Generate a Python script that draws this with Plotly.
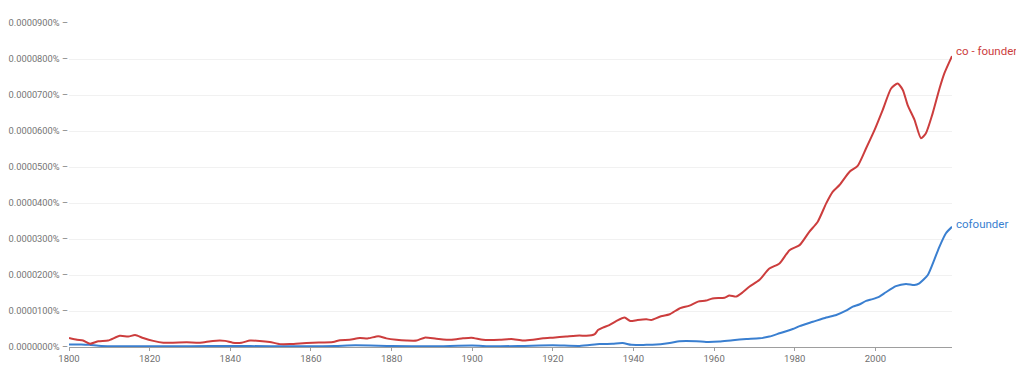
import plotly.graph_objects as go

# values in units of 0.0000001 %
red_years = [1800, 1802, 1803.5, 1805.2, 1807.3, 1809.7, 1812.6, 1814.7, 1816.4, 1818.4, 1820.9, 1823.4,
             1825.8, 1829.2, 1832.5, 1835.7, 1838.7, 1840.6, 1842.8, 1844.9, 1847.3, 1849.8, 1852.3,
             1854.8, 1857.2, 1860.5, 1865.5, 1867.2, 1869.6, 1872.1, 1874.2, 1876.7, 1878.7, 1881.2,
             1883.7, 1886.2, 1888.2, 1891.1, 1894.8, 1897.7, 1899.8, 1902.7, 1906.8, 1909.7, 1912.6,
             1915.1, 1917.6, 1920, 1923.3, 1926.6, 1928.3, 1930.4, 1931.2, 1932.4, 1934, 1935.7,
             1937.8, 1939.2, 1941, 1943.2, 1944.4, 1946.5, 1949, 1951.4, 1953.9, 1956, 1958, 1959.6,
             1962.6, 1963.8, 1965.5, 1967.1, 1968.8, 1971.2, 1973.7, 1976.2, 1978.7, 1981.2, 1983.6,
             1985.7, 1987.8, 1989.4, 1991.1, 1993.6, 1995.6, 1997.7, 1999.8, 2001.8, 2003.9, 2005.5,
             2006.8, 2008, 2009.7, 2011.3, 2012.5, 2014.2, 2015.9, 2017.1, 2019]
red_vals = [25, 20, 18, 9, 16, 18, 31, 29, 33, 25, 17, 12,
            12, 13, 12, 17, 17, 12, 12, 18, 17, 14, 8,
            8, 10, 12, 14, 19, 20, 25, 24, 30, 24, 20,
            18, 18, 26, 23, 20, 24, 26, 20, 20, 22, 18,
            20, 24, 26, 29, 32, 31, 36, 47, 54, 61, 72,
            82, 72, 75, 77, 75, 84, 91, 107, 115, 126, 129, 135,
            137, 143, 140, 152, 168, 186, 218, 232, 269, 283, 320,
            348, 399, 431, 450, 487, 503, 552, 603, 658, 718, 732,
            714, 672, 631, 580, 593, 649, 718, 760, 808]

blue_years = [1800, 1803, 1805, 1808, 1812, 1820, 1830, 1840, 1850, 1860, 1866, 1871, 1880, 1890,
              1900, 1905, 1912, 1920, 1926.6, 1931.6, 1934.8, 1937.3, 1939.5, 1943.2, 1944.7, 1949,
              1951.4, 1955.6, 1958, 1961.3, 1964.6, 1968, 1971.2, 1973.7, 1976.2, 1979.5, 1981.2,
              1984.5, 1987.8, 1990.3, 1992.7, 1994.4, 1996, 1997.7, 1999.3, 2001, 2002.6, 2005.1,
              2007.6, 2009.7, 2010.9, 2013, 2014.6, 2015.9, 2017.5, 2019]
blue_vals = [7, 7, 6, 3, 2, 2, 2, 3, 2, 2, 3, 5, 3, 2,
             4, 2, 3, 5, 3, 8, 9, 11, 6, 6, 6, 11,
             16, 16, 14, 15, 19, 22, 24, 29, 38, 50, 58,
             70, 82, 89, 101, 112, 118, 128, 133, 140, 152, 169,
             175, 172, 177, 200, 242, 279, 316, 334]

y_tick_vals = [0, 100, 200, 300, 400, 500, 600, 700, 800, 900]
y_tick_text = ["0.0000000% –", "0.0000100% –", "0.0000200% –", "0.0000300% –", "0.0000400% –",
               "0.0000500% –", "0.0000600% –", "0.0000700% –", "0.0000800% –", "0.0000900% –"]
x_tick_vals = [1800, 1820, 1840, 1860, 1880, 1900, 1920, 1940, 1960, 1980, 2000]

RED = "#cc3d3d"
BLUE = "#3a7fd0"

fig = go.Figure()
fig.add_trace(go.Scatter(x=blue_years, y=blue_vals, mode="lines",
                         line=dict(color=BLUE, width=2, shape="spline", smoothing=0.6),
                         name="cofounder"))
fig.add_trace(go.Scatter(x=red_years, y=red_vals, mode="lines",
                         line=dict(color=RED, width=2, shape="spline", smoothing=0.6),
                         name="co - founder"))

fig.add_annotation(x=2019, y=red_vals[-1], xref="x", yref="y", text="co - founder",
                   showarrow=False, xanchor="left", yanchor="middle", xshift=2, yshift=5,
                   font=dict(color=RED, size=11.5, family="Roboto"))
fig.add_annotation(x=2019, y=blue_vals[-1], xref="x", yref="y", text="cofounder",
                   showarrow=False, xanchor="left", yanchor="middle", xshift=2, yshift=3,
                   font=dict(color=BLUE, size=11.5, family="Roboto"))

fig.update_layout(
    width=1016, height=365,
    margin=dict(l=61, r=72, t=15, b=26),
    paper_bgcolor="white", plot_bgcolor="white",
    showlegend=False,
    font=dict(family="Roboto", size=9.5, color="#757575"),
    xaxis=dict(range=[1800, 2019], tickvals=x_tick_vals, showgrid=False, zeroline=False,
               showline=True, linecolor="#9e9e9e", linewidth=1, automargin=False,
               ticks="outside", ticklen=3, tickcolor="#9e9e9e",
               tickfont=dict(size=9.5, color="#6f6f6f")),
    yaxis=dict(range=[0, 900], tickvals=y_tick_vals, ticktext=y_tick_text,
               showgrid=True, gridcolor="#f1f1f1", zeroline=False, showline=False,
               automargin=False, ticks="",
               tickfont=dict(size=9.3, color="#757575")),
)

fig.write_html("out.html")
